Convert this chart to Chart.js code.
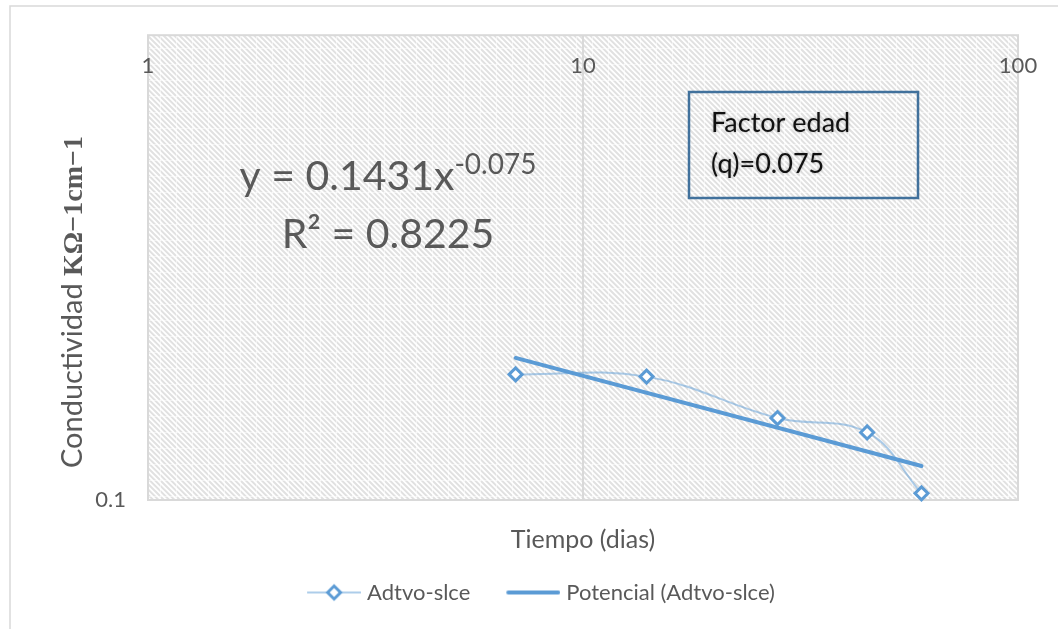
<!DOCTYPE html>
<html lang="es">
<head>
<meta charset="utf-8">
<title>Conductividad vs tiempo</title>
<script src="https://cdn.jsdelivr.net/npm/chart.js@4.4.1/dist/chart.umd.min.js"></script>
<style>
  html, body { margin: 0; padding: 0; background: #fff; }
  canvas { display: block; }
</style>
</head>
<body>
<canvas id="grafica" width="1058" height="629"></canvas>
<script>
// datos
const dias = [7, 14, 28, 45, 60];
const conductividad = [0.1206, 0.1202, 0.1130, 0.1106, 0.1010];
// linea de tendencia potencial (extremos)
const diasTendencia = [7, 60];
const conductividadTendencia = [0.1236, 0.1052];
const ticksX = [1, 10, 100];
const ticksY = [0.1];

const gris = '#595959';
const azul = '#5b9bd5';
const fuente = 'Lato';

// trama diagonal del fondo del area de trazado
function trama() {
  const c = document.createElement('canvas');
  c.width = c.height = 16;
  const t = c.getContext('2d');
  t.fillStyle = '#fff';
  t.fillRect(0, 0, 16, 16);
  t.strokeStyle = '#e1e1e1';
  t.lineWidth = 2;
  for (let k = -4; k <= 4; k++) {
    const o = k * 16 / 3;
    t.beginPath();
    t.moveTo(o - 4, -4);
    t.lineTo(o + 20, 20);
    t.stroke();
  }
  t.fillStyle = 'rgba(255,255,255,0.55)';
  t.fillRect(0, 0, 16, 1);
  t.fillRect(0, 0, 1, 16);
  return c;
}

// iconos de la leyenda
function icono(conMarcador) {
  const c = document.createElement('canvas');
  c.width = 85; c.height = 20;
  const t = c.getContext('2d');
  if (conMarcador) {
    t.strokeStyle = 'rgba(91,155,213,0.5)';
    t.lineWidth = 2;
    t.beginPath(); t.moveTo(31, 10); t.lineTo(85, 10); t.stroke();
    t.beginPath();
    t.moveTo(51.5, 10); t.lineTo(58, 3.5); t.lineTo(64.5, 10); t.lineTo(58, 16.5); t.closePath();
    t.fillStyle = '#fff'; t.fill();
    t.strokeStyle = azul; t.lineWidth = 3; t.stroke();
  } else {
    t.strokeStyle = azul; t.lineWidth = 4; t.lineCap = 'round';
    t.beginPath(); t.moveTo(33, 10); t.lineTo(83, 10); t.stroke();
  }
  return c;
}
const iconos = [icono(true), icono(false)];

const decoraciones = {
  id: 'decoraciones',
  beforeDraw(chart) {
    const { ctx, chartArea: a } = chart;
    ctx.save();
    ctx.fillStyle = '#fff';
    ctx.fillRect(0, 0, chart.width, chart.height);
    ctx.strokeStyle = '#d9d9d9';
    ctx.lineWidth = 1.5;
    ctx.strokeRect(10, 6, chart.width + 20, chart.height + 20);
    ctx.fillStyle = ctx.createPattern(trama(), 'repeat');
    ctx.fillRect(a.left, a.top, a.right - a.left, a.bottom - a.top);
    ctx.strokeStyle = '#d9d9d9';
    ctx.lineWidth = 2;
    ctx.strokeRect(a.left, a.top, a.right - a.left, a.bottom - a.top);

    // titulo del eje vertical
    ctx.translate(82, 468);
    ctx.rotate(-Math.PI / 2);
    ctx.fillStyle = gris;
    ctx.textBaseline = 'alphabetic';
    ctx.font = '29px ' + fuente;
    const parte1 = 'Conductividad ';
    ctx.fillText(parte1, 0, 0);
    const w = ctx.measureText(parte1).width;
    ctx.font = 'bold 28px "Liberation Serif"';
    ctx.fillText('KΩ−1cm−1', w, 0);
    ctx.restore();
  },
  afterDatasetsDraw(chart) {
    const { ctx } = chart;
    ctx.save();
    // ecuacion de la tendencia
    ctx.fillStyle = gris;
    ctx.textBaseline = 'alphabetic';
    ctx.font = '41px ' + fuente;
    const base = 'y = 0.1431x';
    const wb = ctx.measureText(base).width;
    ctx.font = '28px ' + fuente;
    const sup = '-0.075';
    const ws = ctx.measureText(sup).width;
    const x0 = 388 - (wb + ws) / 2;
    ctx.font = '41px ' + fuente;
    ctx.fillText(base, x0, 190);
    ctx.font = '28px ' + fuente;
    ctx.fillText(sup, x0 + wb, 174);
    ctx.font = '41px ' + fuente;
    ctx.textAlign = 'center';
    ctx.fillText('R² = 0.8225', 388, 248);

    // cuadro de texto
    ctx.textAlign = 'left';
    ctx.strokeStyle = '#41719c';
    ctx.lineWidth = 2.5;
    ctx.strokeRect(689, 92, 229, 106);
    ctx.fillStyle = '#111';
    ctx.shadowColor = 'rgba(0,0,0,0.3)';
    ctx.shadowBlur = 3;
    ctx.font = '27px ' + fuente;
    ctx.fillText('Factor edad', 711, 132);
    ctx.fillText('(q)=0.075', 711, 173);
    ctx.restore();
  }
};

new Chart(document.getElementById('grafica'), {
  type: 'line',
  data: {
    datasets: [
      {
        label: 'Adtvo-slce',
        data: dias.map((d, i) => ({ x: d, y: conductividad[i] })),
        borderColor: 'rgba(91,155,213,0.5)',
        borderWidth: 2,
        tension: 0.4,
        pointStyle: 'rectRot',
        pointRadius: 6.5,
        pointBorderWidth: 3,
        pointBorderColor: azul,
        pointBackgroundColor: '#fff',
        clip: false
      },
      {
        label: 'Potencial (Adtvo-slce)',
        data: diasTendencia.map((d, i) => ({ x: d, y: conductividadTendencia[i] })),
        borderColor: azul,
        borderWidth: 4,
        borderCapStyle: 'round',
        pointRadius: 0,
        tension: 0
      }
    ]
  },
  options: {
    responsive: false,
    animation: false,
    devicePixelRatio: 1,
    layout: { padding: { left: 22, right: 24, top: 0, bottom: 15.5 } },
    plugins: {
      tooltip: { enabled: false },
      legend: {
        position: 'bottom',
        labels: {
          usePointStyle: true,
          pointStyleWidth: 75,
          padding: 10,
          color: gris,
          font: { family: fuente, size: 22 },
          generateLabels: chart => chart.data.datasets.map((ds, i) => ({
            text: ds.label,
            pointStyle: iconos[i],
            fontColor: gris,
            hidden: false,
            lineWidth: 0,
            datasetIndex: i
          }))
        }
      }
    },
    scales: {
      x: {
        type: 'logarithmic',
        position: 'top',
        min: 1,
        max: 100,
        afterBuildTicks: s => { s.ticks = ticksX.map(v => ({ value: v })); },
        afterFit: s => { s.height = 35; },
        ticks: {
          mirror: true,
          padding: 18,
          autoSkip: false,
          maxRotation: 0,
          color: gris,
          font: { family: fuente, size: 22 },
          callback: v => String(v)
        },
        grid: { color: '#d9d9d9', lineWidth: 2, drawTicks: false },
        border: { display: false }
      },
      y: {
        type: 'logarithmic',
        position: 'left',
        min: 0.1,
        max: 0.2,
        afterBuildTicks: s => { s.ticks = ticksY.map(v => ({ value: v })); },
        afterFit: s => { s.width = 126; },
        ticks: {
          padding: 22,
          color: gris,
          font: { family: fuente, size: 22 },
          callback: v => String(v)
        },
        grid: { display: false, drawTicks: false },
        border: { display: false }
      },
      xTitulo: {
        axis: 'x',
        type: 'linear',
        position: 'bottom',
        min: 0,
        max: 1,
        afterFit: s => { s.height = 71.5; },
        ticks: { display: false },
        grid: { display: false, drawTicks: false },
        border: { display: false },
        title: {
          display: true,
          text: 'Tiempo (dias)',
          color: gris,
          font: { family: fuente, size: 25 },
          padding: { top: 0, bottom: 17 }
        }
      },
      yDerecha: {
        axis: 'y',
        type: 'linear',
        position: 'right',
        min: 0,
        max: 1,
        afterFit: s => { s.width = 16; },
        ticks: { display: false },
        grid: { display: false, drawTicks: false },
        border: { display: false }
      }
    }
  },
  plugins: [decoraciones]
});
</script>
</body>
</html>
